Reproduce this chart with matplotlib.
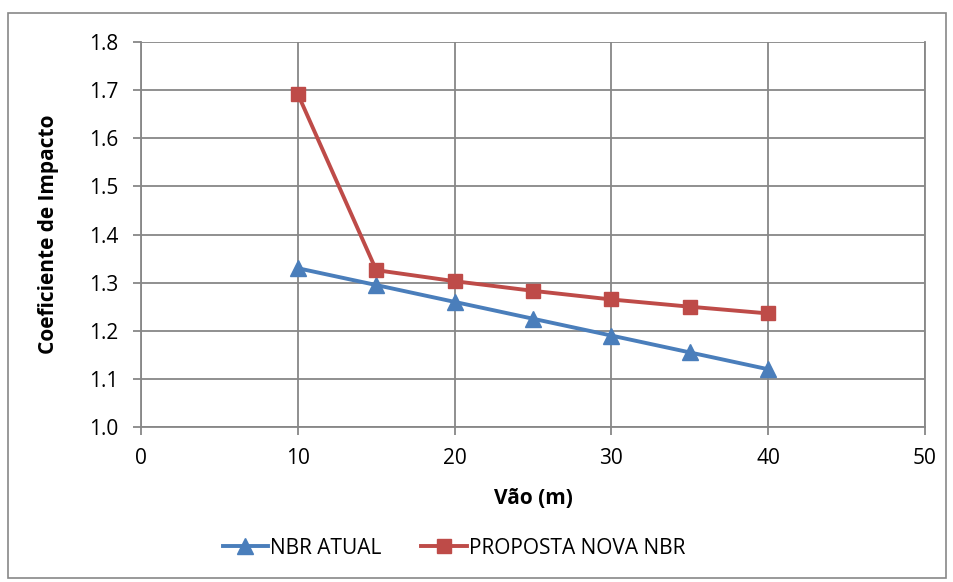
import matplotlib
matplotlib.use("Agg")
import matplotlib.pyplot as plt
from matplotlib.patches import Rectangle

plt.rcParams['font.family'] = ['Open Sans', 'DejaVu Sans']

# span (m) and impact coefficient for each rule
vao = [10, 15, 20, 25, 30, 35, 40]
nbr_atual = [1.33, 1.295, 1.26, 1.225, 1.19, 1.155, 1.12]
proposta = [1.692, 1.326, 1.303, 1.283, 1.265, 1.250, 1.236]

azul = '#4A7EBB'
vermelho = '#BE4B48'
grade = '#878787'

fig = plt.figure(figsize=(9.54, 5.82), dpi=100)
ax = fig.add_axes([0.1478, 0.2663, 0.8218, 0.6615])

ax.plot(vao, nbr_atual, color=azul, lw=2.8, marker='^', ms=11,
        label='NBR ATUAL')
ax.plot(vao, proposta, color=vermelho, lw=2.8, marker='s', ms=10,
        label='PROPOSTA NOVA NBR')

ax.set_xlim(0, 50)
ax.set_ylim(1.0, 1.8)
ax.set_xticks(range(0, 51, 10))
ax.set_yticks([1.0, 1.1, 1.2, 1.3, 1.4, 1.5, 1.6, 1.7, 1.8])
ax.set_yticklabels(['1.0', '1.1', '1.2', '1.3', '1.4', '1.5', '1.6', '1.7', '1.8'])

ax.grid(True, color=grade, lw=1.3)
ax.set_axisbelow(True)
for lado in ax.spines.values():
    lado.set_color(grade)
    lado.set_linewidth(1.3)
ax.spines['top'].set_visible(False)

ax.tick_params(axis='both', direction='out', length=6, width=1.3,
               color=grade, labelsize=15)
ax.tick_params(axis='y', pad=10)
ax.tick_params(axis='x', pad=9)

ax.set_xlabel('Vão (m)', fontsize=15, fontweight='bold', labelpad=14)
ax.set_ylabel('Coeficiente de Impacto', fontsize=15, fontweight='bold',
              labelpad=22)

fig.legend(loc='center', bbox_to_anchor=(0.476, 0.058), ncol=2, frameon=False,
           fontsize=15, handlelength=2.2, columnspacing=1.9, handletextpad=0.1)

# moldura externa do gráfico
fig.patches.append(Rectangle((8 / 954, 4 / 582), 938 / 954, 565 / 582,
                             transform=fig.transFigure, fill=False,
                             edgecolor=grade, lw=1.2))

fig.savefig('out.png', dpi=100)
